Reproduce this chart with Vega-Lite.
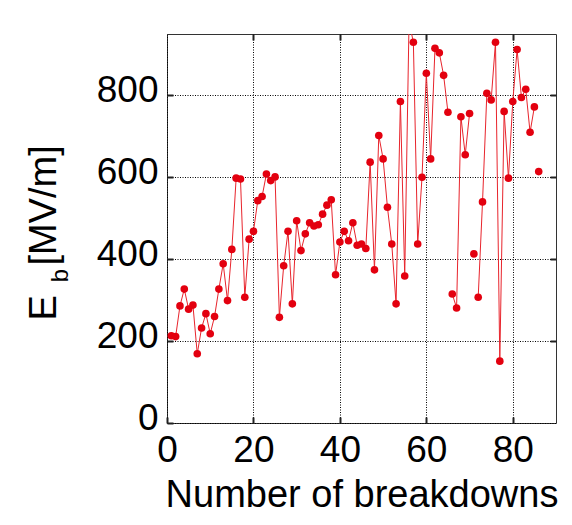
{
  "$schema": "https://vega.github.io/schema/vega-lite/v6.json",
  "width": 389,
  "height": 389,
  "autosize": {"type": "none"},
  "padding": {"left": 167, "top": 34, "right": 16, "bottom": 102},
  "background": "white",
  "config": {
    "font": "Liberation Sans",
    "view": {"stroke": "#333333", "strokeWidth": 1},
    "axis": {
      "domain": false,
      "labelFlush": false,
      "labelOverlap": false,
      "labelBound": false,
      "labelColor": "#000000",
      "labelFontSize": 37,
      "titleColor": "#000000",
      "titleFontWeight": "normal",
      "tickColor": "#222222",
      "tickWidth": 2,
      "tickSize": -6,
      "gridColor": "#000000",
      "gridDash": [1, 1.5],
      "gridOpacity": 1,
      "gridWidth": 1
    }
  },
  "data": {
    "values": [
      {"n": 1, "eb": 213, "run": 1}, {"n": 2, "eb": 211, "run": 1}, {"n": 3, "eb": 286, "run": 1},
      {"n": 4, "eb": 327, "run": 1}, {"n": 5, "eb": 278, "run": 1}, {"n": 6, "eb": 288, "run": 1},
      {"n": 7, "eb": 169, "run": 1}, {"n": 8, "eb": 232, "run": 1}, {"n": 9, "eb": 267, "run": 1},
      {"n": 10, "eb": 218, "run": 1}, {"n": 11, "eb": 260, "run": 1}, {"n": 12, "eb": 327, "run": 1},
      {"n": 13, "eb": 389, "run": 1}, {"n": 14, "eb": 299, "run": 1}, {"n": 15, "eb": 424, "run": 1},
      {"n": 16, "eb": 598, "run": 1}, {"n": 17, "eb": 596, "run": 1}, {"n": 18, "eb": 307, "run": 1},
      {"n": 19, "eb": 449, "run": 1}, {"n": 20, "eb": 468, "run": 1}, {"n": 21, "eb": 543, "run": 1},
      {"n": 22, "eb": 553, "run": 1}, {"n": 23, "eb": 608, "run": 1}, {"n": 24, "eb": 592, "run": 1},
      {"n": 25, "eb": 601, "run": 1}, {"n": 26, "eb": 258, "run": 1}, {"n": 27, "eb": 384, "run": 1},
      {"n": 28, "eb": 468, "run": 1}, {"n": 29, "eb": 291, "run": 1}, {"n": 30, "eb": 494, "run": 1},
      {"n": 31, "eb": 421, "run": 1}, {"n": 32, "eb": 462, "run": 1}, {"n": 33, "eb": 489, "run": 1},
      {"n": 34, "eb": 481, "run": 1}, {"n": 35, "eb": 484, "run": 1}, {"n": 36, "eb": 510, "run": 1},
      {"n": 37, "eb": 532, "run": 1}, {"n": 38, "eb": 545, "run": 1}, {"n": 39, "eb": 362, "run": 1},
      {"n": 40, "eb": 442, "run": 1}, {"n": 41, "eb": 468, "run": 1}, {"n": 42, "eb": 445, "run": 1},
      {"n": 43, "eb": 489, "run": 1}, {"n": 44, "eb": 434, "run": 1}, {"n": 45, "eb": 437, "run": 1},
      {"n": 46, "eb": 426, "run": 1}, {"n": 47, "eb": 637, "run": 1}, {"n": 48, "eb": 374, "run": 1},
      {"n": 49, "eb": 702, "run": 1}, {"n": 50, "eb": 645, "run": 1}, {"n": 51, "eb": 527, "run": 1},
      {"n": 52, "eb": 437, "run": 1}, {"n": 53, "eb": 291, "run": 1}, {"n": 54, "eb": 785, "run": 1},
      {"n": 55, "eb": 359, "run": 1}, {"n": 56, "eb": 980, "run": 1}, {"n": 57, "eb": 930, "run": 1},
      {"n": 58, "eb": 437, "run": 1}, {"n": 59, "eb": 600, "run": 1}, {"n": 60, "eb": 854, "run": 1},
      {"n": 61, "eb": 645, "run": 1}, {"n": 62, "eb": 915, "run": 1}, {"n": 63, "eb": 904, "run": 1},
      {"n": 64, "eb": 849, "run": 1}, {"n": 65, "eb": 759, "run": 1}, {"n": 66, "eb": 315, "run": 2},
      {"n": 67, "eb": 281, "run": 2}, {"n": 68, "eb": 748, "run": 2}, {"n": 69, "eb": 655, "run": 2},
      {"n": 70, "eb": 756, "run": 2}, {"n": 71, "eb": 413, "run": 3}, {"n": 72, "eb": 307, "run": 4},
      {"n": 73, "eb": 540, "run": 4}, {"n": 74, "eb": 805, "run": 4}, {"n": 75, "eb": 789, "run": 4},
      {"n": 76, "eb": 930, "run": 4}, {"n": 77, "eb": 151, "run": 4}, {"n": 78, "eb": 761, "run": 4},
      {"n": 79, "eb": 598, "run": 4}, {"n": 80, "eb": 785, "run": 4}, {"n": 81, "eb": 912, "run": 4},
      {"n": 82, "eb": 795, "run": 4}, {"n": 83, "eb": 815, "run": 4}, {"n": 84, "eb": 710, "run": 4},
      {"n": 85, "eb": 772, "run": 4}, {"n": 86, "eb": 614, "run": 5}
    ]
  },
  "layer": [
    {
      "mark": {"type": "line", "color": "#e8242c", "strokeWidth": 1, "clip": true},
      "encoding": {
        "x": {
          "field": "n", "type": "quantitative",
          "scale": {"domain": [0, 90], "nice": false, "zero": false},
          "axis": {
            "orient": "bottom",
            "values": [0, 20, 40, 60, 80],
            "grid": true,
            "labelPadding": 15,
            "title": "Number of breakdowns",
            "titleFontSize": 38,
            "titleBaseline": "alphabetic",
            "titleY": 83
          }
        },
        "y": {
          "field": "eb", "type": "quantitative",
          "scale": {"domain": [0, 950], "nice": false, "zero": false},
          "axis": {
            "orient": "left",
            "values": [0, 200, 400, 600, 800],
            "grid": true,
            "labelPadding": 15,
            "labelBaseline": "alphabetic",
            "labelOffset": 6.5,
            "title": "E\u2002 [MV/m]",
            "titleFontSize": 38,
            "titleAngle": 270,
            "titleAlign": "left",
            "titleBaseline": "alphabetic",
            "titleX": -112,
            "titleY": 286
          }
        },
        "detail": {"field": "run", "type": "nominal"}
      }
    },
    {
      "mark": {"type": "circle", "color": "#e3000f", "opacity": 1, "size": 58, "clip": true},
      "encoding": {
        "x": {
          "field": "n", "type": "quantitative",
          "axis": {
            "orient": "top",
            "values": [20, 40, 60, 80],
            "grid": false,
            "labels": false,
            "title": null
          }
        },
        "y": {
          "field": "eb", "type": "quantitative",
          "axis": {
            "orient": "right",
            "values": [200, 400, 600, 800],
            "grid": false,
            "labels": false,
            "title": "b",
            "titleFontSize": 24,
            "titleAngle": 270,
            "titleAlign": "center",
            "titleBaseline": "alphabetic",
            "titleX": -489,
            "titleY": 241
          }
        }
      }
    }
  ],
  "resolve": {"axis": {"x": "independent", "y": "independent"}}
}
